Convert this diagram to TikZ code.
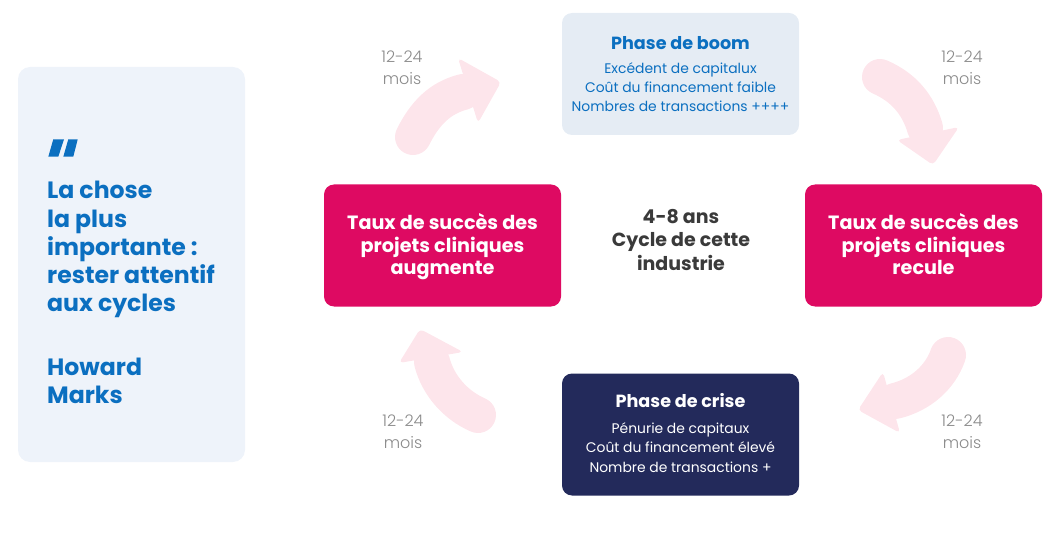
\documentclass[tikz,border=0pt]{standalone}
\usepackage{fontspec}
\setmainfont{Poppins}
\newfontfamily\plight{Poppins Light}
\definecolor{panelbg}{HTML}{EEF3FA}
\definecolor{boombg}{HTML}{E5ECF4}
\definecolor{qblue}{HTML}{0B6FC0}
\definecolor{cpink}{HTML}{DE0A62}
\definecolor{cnavy}{HTML}{232A5B}
\definecolor{apink}{HTML}{FDE5EB}
\definecolor{lgray}{HTML}{8A8A8A}
\definecolor{cdark}{HTML}{3A3A3A}
\tikzset{
  box/.style={rectangle, rounded corners=10pt, minimum width=237pt, minimum height=122pt, inner sep=0pt},
  pinktext/.style={inner sep=0pt, anchor=base, text=white, align=center, font=\bfseries\fontsize{19.2}{22.7}\selectfont},
  title/.style={inner sep=0pt, anchor=base, font=\bfseries\fontsize{17.6}{20}\selectfont},
  body/.style={inner sep=0pt, anchor=base, align=center, font=\fontsize{13.9}{19.3}\selectfont},
  lbl/.style={inner sep=0pt, anchor=base, align=center, text=lgray, font=\plight\fontsize{16}{22}\selectfont},
  quote/.style={inner sep=0pt, anchor=base west, align=left, text=qblue, font=\bfseries\fontsize{23.6}{28}\selectfont},
  shaft/.style={draw=apink, line width=36pt, line cap=round},
  head/.style={fill=apink, rounded corners=4pt}
}
\begin{document}
\begin{tikzpicture}[x=1pt,y=-1pt]
\useasboundingbox (0,0) rectangle (1054,537);
% left panel
\node[box, fill=panelbg, minimum width=227pt, minimum height=395pt, rounded corners=12pt] (panel) at (131.5,264.5) {};
\fill[qblue] (53.3,139.3) -- (64,139.3) -- (58.3,156.7) -- (48.3,156.7) -- cycle;
\fill[qblue] (68.3,139.3) -- (77.7,139.3) -- (73.3,156.7) -- (63.3,156.7) -- cycle;
\node[quote] (qtext) at (47,311) {La chose\\la plus\\importante :\\rester attentif\\aux cycles};
\node[quote] (qauth) at (47,403) {Howard\\Marks};
% arrows
\draw[shaft] (413,137) .. controls (425,113) and (440,98) .. (463,92);
\fill[head] (458,58) -- (501,82) -- (478,123) -- cycle;
\draw[shaft] (880,77) .. controls (903,87) and (918,104) .. (925,128);
\fill[head] (897,140) -- (959,127) -- (933,165) -- cycle;
\draw[shaft] (948,355) .. controls (940,378) and (920,395) .. (895,401);
\fill[head] (883,372) -- (858,410) -- (900,433) -- cycle;
\draw[shaft] (478,415) .. controls (455,405) and (438,385) .. (432,362);
\fill[head] (399,363) -- (420,329) -- (463,352) -- cycle;
% boxes
\node[box, fill=boombg] (boom) at (680.5,74) {};
\node[title, text=qblue] (boomt) at (680.5,50) {Phase de boom};
\node[body, text=qblue] (boomb) at (680.5,112) {Excédent de capitalux\\Coût du financement faible\\Nombres de transactions ++++};
\node[box, fill=cnavy] (crise) at (680.5,434.5) {};
\node[title, text=white] (criset) at (680.5,407) {Phase de crise};
\node[body, text=white] (criseb) at (680.5,472) {Pénurie de capitaux\\Coût du financement élevé\\Nombre de transactions +};
\node[box, fill=cpink] (up) at (442.5,245.5) {};
\node[pinktext] (upt) at (442.5,275) {Taux de succès des\\projets cliniques\\augmente};
\node[box, fill=cpink] (down) at (923.5,245.5) {};
\node[pinktext] (downt) at (923.5,275) {Taux de succès des\\projets cliniques\\recule};
\node[inner sep=0pt, anchor=base, align=center, text=cdark, font=\bfseries\fontsize{19}{23.5}\selectfont] (mid) at (681,270) {4-8 ans\\Cycle de cette\\industrie};
% labels
\node[lbl] (l1) at (402,85) {12-24\\mois};
\node[lbl] (l2) at (962,85) {12-24\\mois};
\node[lbl] (l3) at (403,448) {12-24\\mois};
\node[lbl] (l4) at (962,448) {12-24\\mois};
\end{tikzpicture}
\end{document}
